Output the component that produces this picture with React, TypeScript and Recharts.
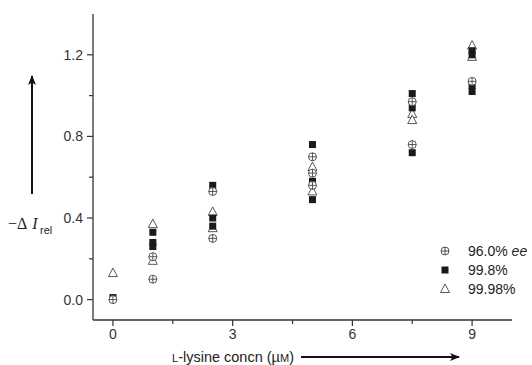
import * as React from 'react';
import { ScatterChart, Scatter, XAxis, YAxis } from 'recharts';

// 96.0% ee (circle with cross)
const ee960X = [0, 1, 1, 2.5, 2.5, 5, 5, 5, 7.5, 7.5, 9];
const ee960Y = [0.0, 0.21, 0.10, 0.53, 0.30, 0.70, 0.62, 0.56, 0.97, 0.76, 1.07];

// 99.8% (filled square)
const ee998X = [0, 1, 1, 1, 2.5, 2.5, 2.5, 5, 5, 5, 7.5, 7.5, 7.5, 9, 9, 9, 9];
const ee998Y = [0.01, 0.33, 0.28, 0.26, 0.56, 0.40, 0.36, 0.76, 0.58, 0.49, 1.01, 0.94, 0.72, 1.22, 1.20, 1.05, 1.02];

// 99.98% (open triangle)
const ee9998X = [0, 1, 1, 2.5, 2.5, 5, 5, 7.5, 7.5, 9, 9];
const ee9998Y = [0.13, 0.37, 0.19, 0.43, 0.35, 0.65, 0.53, 0.91, 0.88, 1.245, 1.19];

const xTicks = [0, 1.5, 3, 4.5, 6, 7.5, 9];
const xMajor = [0, 3, 6, 9];
const yTicks = [0, 0.2, 0.4, 0.6, 0.8, 1.0, 1.2];
const yMajor = [0, 0.4, 0.8, 1.2];

const toPoints = (xs: number[], ys: number[]) => xs.map((x, i) => ({ x, y: ys[i] }));

const AXIS = '#333';
const SANS = 'Liberation Sans, Arial, Helvetica, sans-serif';

const CircleCross = (p: any) => {
  const { cx, cy } = p;
  return (
    <g>
      <circle cx={cx} cy={cy} r={4} fill="#fff" stroke="#444" strokeWidth={0.9} />
      <line x1={cx - 4} x2={cx + 4} y1={cy} y2={cy} stroke="#444" strokeWidth={0.9} />
      <line x1={cx} x2={cx} y1={cy - 4} y2={cy + 4} stroke="#444" strokeWidth={0.9} />
    </g>
  );
};

const FilledSquare = (p: any) => {
  const { cx, cy } = p;
  return <rect x={cx - 3.5} y={cy - 3.5} width={7} height={7} fill="#1a1a1a" />;
};

const OpenTriangle = (p: any) => {
  const { cx, cy } = p;
  return (
    <path
      d={`M${cx},${cy - 5} L${cx + 4.5},${cy + 3.5} L${cx - 4.5},${cy + 3.5} Z`}
      fill="#fff"
      stroke="#444"
      strokeWidth={0.9}
    />
  );
};

const XTick = (p: any) => {
  const { x, y, payload } = p;
  const major = xMajor.includes(payload.value);
  return (
    <g>
      <line x1={x} x2={x} y1={y} y2={y + (major ? 6 : 4)} stroke={AXIS} strokeWidth={1.2} />
      {major && (
        <text x={x} y={y + 19} textAnchor="middle" fontSize={14} fill={AXIS} fontFamily={SANS}>
          {payload.value}
        </text>
      )}
    </g>
  );
};

const YTick = (p: any) => {
  const { x, y, payload } = p;
  const major = yMajor.some((v) => Math.abs(v - payload.value) < 1e-6);
  return (
    <g>
      <line x1={x - (major ? 6 : 4)} x2={x} y1={y} y2={y} stroke={AXIS} strokeWidth={1.2} />
      {major && (
        <text x={x - 10} y={y + 5} textAnchor="end" fontSize={14} fill={AXIS} fontFamily={SANS}>
          {payload.value.toFixed(1)}
        </text>
      )}
    </g>
  );
};

const legendItems = [
  { key: 'c', label: '96.0% ', italic: 'ee', Shape: CircleCross },
  { key: 's', label: '99.8%', italic: '', Shape: FilledSquare },
  { key: 't', label: '99.98%', italic: '', Shape: OpenTriangle },
];

export default function App() {
  return (
    <div style={{ position: 'relative', width: 532, height: 365, background: '#fff', overflow: 'hidden' }}>
      <style>{'body{margin:0}'}</style>
      <ScatterChart width={532} height={365} margin={{ top: 14, right: 20, left: 0, bottom: 15 }}>
        <XAxis
          type="number"
          dataKey="x"
          domain={[-0.5, 10]}
          ticks={xTicks}
          interval={0}
          tick={<XTick />}
          tickLine={false}
          tickSize={0}
          tickMargin={0}
          height={30}
          axisLine={{ stroke: AXIS, strokeWidth: 1.3 }}
        />
        <YAxis
          type="number"
          dataKey="y"
          domain={[-0.1, 1.4]}
          ticks={yTicks}
          interval={0}
          tick={<YTick />}
          tickLine={false}
          tickSize={0}
          tickMargin={0}
          width={93}
          axisLine={{ stroke: AXIS, strokeWidth: 1.3 }}
        />
        <Scatter name="99.98%" data={toPoints(ee9998X, ee9998Y)} shape={OpenTriangle} isAnimationActive={false} />
        <Scatter name="99.8%" data={toPoints(ee998X, ee998Y)} shape={FilledSquare} isAnimationActive={false} />
        <Scatter name="96.0% ee" data={toPoints(ee960X, ee960Y)} shape={CircleCross} isAnimationActive={false} />
      </ScatterChart>
      <svg
        width={532}
        height={365}
        style={{ position: 'absolute', left: 0, top: 0, pointerEvents: 'none' }}
      >
        <defs>
          <marker id="ah" markerWidth="10" markerHeight="8" refX="9" refY="4" orient="auto" markerUnits="userSpaceOnUse">
            <path d="M0,0 L10,4 L0,8 L2.5,4 Z" fill="#111" />
          </marker>
        </defs>
        {/* legend */}
        {legendItems.map((it, i) => {
          const cy = 251 + i * 19;
          const S = it.Shape;
          return (
            <g key={it.key}>
              <S cx={445} cy={cy} />
              <text x={468} y={cy + 5} fontSize={14} fill="#222" fontFamily={SANS}>
                {it.label}
                {it.italic && <tspan fontStyle="italic">{it.italic}</tspan>}
              </text>
            </g>
          );
        })}
        {/* y label */}
        <line x1={32} y1={194} x2={32} y2={76} stroke="#111" strokeWidth={2} markerEnd="url(#ah)" />
        <text x={8} y={229} fontSize={16} fill="#222" fontFamily="Liberation Serif, Times New Roman, serif">
          −Δ<tspan dx={5} fontStyle="italic">I</tspan>
        </text>
        <text x={40} y={234} fontSize={11} fill="#222" fontFamily={SANS}>rel</text>
        {/* x label */}
        <text x={172} y={362} fontSize={14.5} fill="#222" fontFamily={SANS}>
          <tspan fontSize={11}>L</tspan>-lysine concn (µ<tspan fontSize={11}>M</tspan>)
        </text>
        <line x1={301} y1={357} x2={459} y2={357} stroke="#111" strokeWidth={2} markerEnd="url(#ah)" />
      </svg>
    </div>
  );
}
